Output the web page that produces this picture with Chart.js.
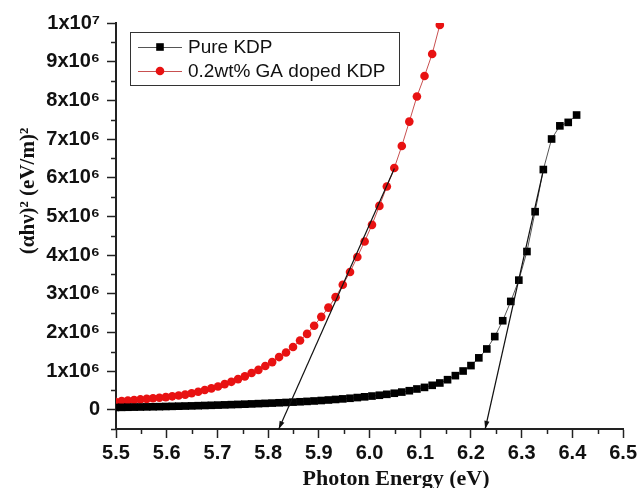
<!DOCTYPE html>
<html>
<head>
<meta charset="utf-8">
<script src="https://cdn.jsdelivr.net/npm/chart.js@4.4.1/dist/chart.umd.min.js"></script>
<style>
  html, body { margin: 0; padding: 0; background: #ffffff; }
  canvas { display: block; }
</style>
</head>
<body>
<canvas id="c" width="640" height="488"></canvas>
<script>
// ---------- data (values of (αhν)² are in units of 10^6 (eV/m)²) ----------
const energyPure = [5.4989,5.5111,5.5234,5.5357,5.5481,5.5605,5.5730,5.5856,5.5982,5.6109,5.6236,
  5.6364,5.6492,5.6621,5.6751,5.6881,5.7011,5.7143,5.7275,5.7407,5.7541,
  5.7674,5.7809,5.7944,5.8080,5.8216,5.8353,5.8491,5.8629,5.8768,5.8907,
  5.9048,5.9189,5.9330,5.9472,5.9615,5.9759,5.9903,6.0048,6.0194,6.0341,
  6.0488,6.0636,6.0784,6.0934,6.1084,6.1235,6.1386,6.1538,6.1692,6.1845,
  6.2000,6.2155,6.2312,6.2469,6.2626,6.2785,6.2944,6.3104,6.3265,6.3427,
  6.3590,6.3753,6.3918,6.4083];
const alphaPure = [0.057,0.060,0.063,0.066,0.069,0.072,0.075,0.078,0.082,0.086,0.090,
  0.094,0.098,0.103,0.108,0.113,0.118,0.124,0.130,0.136,0.142,
  0.149,0.156,0.163,0.170,0.178,0.186,0.195,0.204,0.214,0.225,
  0.237,0.250,0.264,0.279,0.295,0.313,0.332,0.352,0.373,0.397,
  0.425,0.455,0.490,0.535,0.576,0.630,0.690,0.775,0.880,1.000,
  1.140,1.340,1.570,1.890,2.300,2.800,3.350,4.090,5.120,6.210,
  7.000,7.340,7.430,7.620];
const energyDoped = [5.4989,5.5111,5.5234,5.5357,5.5481,5.5605,5.5730,5.5856,5.5982,5.6109,5.6236,
  5.6364,5.6492,5.6621,5.6751,5.6881,5.7011,5.7143,5.7275,5.7407,5.7541,
  5.7674,5.7809,5.7944,5.8080,5.8216,5.8353,5.8491,5.8629,5.8768,5.8907,
  5.9048,5.9189,5.9330,5.9472,5.9615,5.9759,5.9903,6.0048,6.0194,6.0341,
  6.0488,6.0636,6.0784,6.0934,6.1084,6.1235,6.1386];
const alphaDoped = [0.205,0.220,0.235,0.250,0.265,0.280,0.295,0.310,0.325,0.345,0.365,
  0.390,0.425,0.465,0.510,0.550,0.600,0.660,0.720,0.790,0.860,
  0.950,1.030,1.130,1.230,1.360,1.480,1.620,1.790,1.960,2.170,
  2.400,2.640,2.910,3.230,3.560,3.950,4.350,4.780,5.270,5.770,
  6.250,6.820,7.450,8.100,8.630,9.200,9.950];
// tangent (band-gap extrapolation) lines
const fitPureX = [6.228, 6.343];
const fitPureY = [-0.5, 6.21];
const fitDopedX = [5.821, 6.049];
const fitDopedY = [-0.5, 6.24];
// tick labels
const xTickLabels = ['5.5','5.6','5.7','5.8','5.9','6.0','6.1','6.2','6.3','6.4','6.5'];
const yTickLabels = ['0','1x10⁶','2x10⁶','3x10⁶','4x10⁶','5x10⁶','6x10⁶','7x10⁶','8x10⁶','9x10⁶','1x10⁷'];
const seriesNames = ['Pure KDP', '0.2wt% GA doped KDP'];
const xTitle = 'Photon Energy (eV)';
const yTitle = '(αhν)² (eV/m)²';

// ---------- styles ----------
const RED = 'rgb(232,18,18)';
const BLACK = '#000000';
const AXIS = '#222222';
const SANS = '"Liberation Sans", Arial, sans-serif';
const SERIF = '"Liberation Serif", "Times New Roman", serif';

const toXY = (xs, ys) => xs.map((v, i) => ({ x: v, y: ys[i] }));

function drawMarker(ctx, style, cx, cy) {
  if (style === 'rect') {
    ctx.fillStyle = BLACK;
    ctx.fillRect(cx - 3.8, cy - 3.8, 7.6, 7.6);
  } else {
    ctx.fillStyle = RED;
    ctx.beginPath(); ctx.arc(cx, cy, 4.3, 0, Math.PI * 2); ctx.fill();
  }
}

const overlay = {
  id: 'overlay',
  afterDatasetsDraw(chart) {
    const ctx = chart.ctx;
    ctx.save();
    ctx.fillStyle = '#111';
    [0, 1].forEach(i => {
      const pts = chart.getDatasetMeta(i).data;
      const p0 = pts[0], p1 = pts[1];
      const ang = Math.atan2(p0.y - p1.y, p0.x - p1.x);
      const L = 8, W = 2.6;
      const bx = p0.x - L * Math.cos(ang), by = p0.y - L * Math.sin(ang);
      ctx.beginPath();
      ctx.moveTo(p0.x, p0.y);
      ctx.lineTo(bx - W * Math.sin(ang), by + W * Math.cos(ang));
      ctx.lineTo(bx + W * Math.sin(ang), by - W * Math.cos(ang));
      ctx.closePath();
      ctx.fill();
    });
    ctx.restore();
  },
  afterDraw(chart) {
    const { ctx, chartArea: a, scales: { x, y } } = chart;
    ctx.save();
    // minor ticks
    ctx.strokeStyle = AXIS; ctx.lineWidth = 1.5;
    for (let k = 0; k < 10; k++) {
      const px = Math.round(x.getPixelForValue(5.55 + k * 0.1)) + 0.5;
      ctx.beginPath(); ctx.moveTo(px, a.bottom); ctx.lineTo(px, a.bottom + 5); ctx.stroke();
    }
    for (let k = 0; k < 11; k++) {
      const py = Math.round(y.getPixelForValue(-0.5 + k)) + 0.5;
      ctx.beginPath(); ctx.moveTo(a.left - 5, py); ctx.lineTo(a.left, py); ctx.stroke();
    }
    // axis titles
    ctx.fillStyle = '#111';
    ctx.font = 'bold 22px ' + SERIF;
    ctx.textAlign = 'center'; ctx.textBaseline = 'alphabetic';
    ctx.fillText(xTitle, a.left + 280, 485);
    ctx.save();
    ctx.translate(34, a.top + 168);
    ctx.rotate(-Math.PI / 2);
    ctx.font = 'bold 21px ' + SERIF;
    ctx.fillText(yTitle, 0, 0);
    ctx.restore();
    // legend
    const lx = a.left + 14, ly = a.top + 9, lw = 269, lh = 53;
    ctx.strokeStyle = '#333'; ctx.lineWidth = 1;
    ctx.strokeRect(lx + 0.5, ly + 0.5, lw, lh);
    const rows = [
      { name: seriesNames[0], style: 'rect', line: '#555', yy: ly + 15 },
      { name: seriesNames[1], style: 'circle', line: 'rgb(200,80,80)', yy: ly + 39 }
    ];
    rows.forEach(r => {
      ctx.strokeStyle = r.line; ctx.lineWidth = 1;
      ctx.beginPath(); ctx.moveTo(lx + 8, r.yy + 0.5); ctx.lineTo(lx + 52, r.yy + 0.5); ctx.stroke();
      drawMarker(ctx, r.style, lx + 30, r.yy);
      ctx.fillStyle = '#111';
      ctx.font = '19px ' + SANS;
      ctx.textAlign = 'left'; ctx.textBaseline = 'middle';
      ctx.fillText(r.name, lx + 58, r.yy + 1);
    });
    ctx.restore();
  }
};

new Chart(document.getElementById('c'), {
  type: 'scatter',
  data: {
    datasets: [
      { label: 'fit pure', data: toXY(fitPureX, fitPureY), showLine: true,
        borderColor: '#111', borderWidth: 1.2, pointRadius: 0, clip: false },
      { label: 'fit doped', data: toXY(fitDopedX, fitDopedY), showLine: true,
        borderColor: '#111', borderWidth: 1.2, pointRadius: 0, clip: false },
      { label: seriesNames[0], data: toXY(energyPure, alphaPure), showLine: true, clip: 0,
        borderColor: '#555', borderWidth: 1, pointStyle: 'rect', pointRadius: 5.4,
        pointBackgroundColor: BLACK, pointBorderColor: BLACK, pointBorderWidth: 0 },
      { label: seriesNames[1], data: toXY(energyDoped, alphaDoped), showLine: true, clip: 0,
        borderColor: 'rgb(200,80,80)', borderWidth: 1, pointStyle: 'circle', pointRadius: 4.3,
        pointBackgroundColor: RED, pointBorderColor: RED, pointBorderWidth: 0 }
    ]
  },
  options: {
    responsive: false,
    animation: false,
    devicePixelRatio: 1,
    layout: { padding: { left: 0, top: 23, right: 16, bottom: 0 } },
    plugins: { legend: { display: false }, tooltip: { enabled: false } },
    scales: {
      x: {
        type: 'linear', min: 5.5, max: 6.5,
        afterFit: s => { s.height = 59; },
        border: { display: true, color: AXIS, width: 2 },
        grid: { drawOnChartArea: false, drawTicks: true, tickLength: 9, tickWidth: 1.5, tickColor: AXIS },
        ticks: {
          stepSize: 0.1, padding: 3, color: '#111',
          font: { family: SANS, size: 20, weight: 'bold' },
          callback: v => {
            const i = Math.round((v - 5.5) * 10);
            return (Math.abs(v - (5.5 + i * 0.1)) < 1e-6 && xTickLabels[i] !== undefined) ? xTickLabels[i] : '';
          }
        }
      },
      y: {
        type: 'linear', min: -0.5, max: 10,
        afterFit: s => { s.width = 116; },
        border: { display: true, color: AXIS, width: 2 },
        grid: {
          drawOnChartArea: false, drawTicks: true, tickLength: 9, tickWidth: 1.5,
          tickColor: c => (c.tick && Math.abs(c.tick.value - Math.round(c.tick.value)) < 1e-6) ? AXIS : 'rgba(0,0,0,0)'
        },
        ticks: {
          stepSize: 1, includeBounds: false, autoSkip: false, maxTicksLimit: 30, padding: 7, color: '#111',
          font: { family: SANS, size: 20, weight: 'bold' },
          callback: v => {
            const i = Math.round(v);
            return (Math.abs(v - i) < 1e-6 && yTickLabels[i] !== undefined) ? yTickLabels[i] : '';
          }
        }
      }
    }
  },
  plugins: [overlay]
});
</script>
</body>
</html>
